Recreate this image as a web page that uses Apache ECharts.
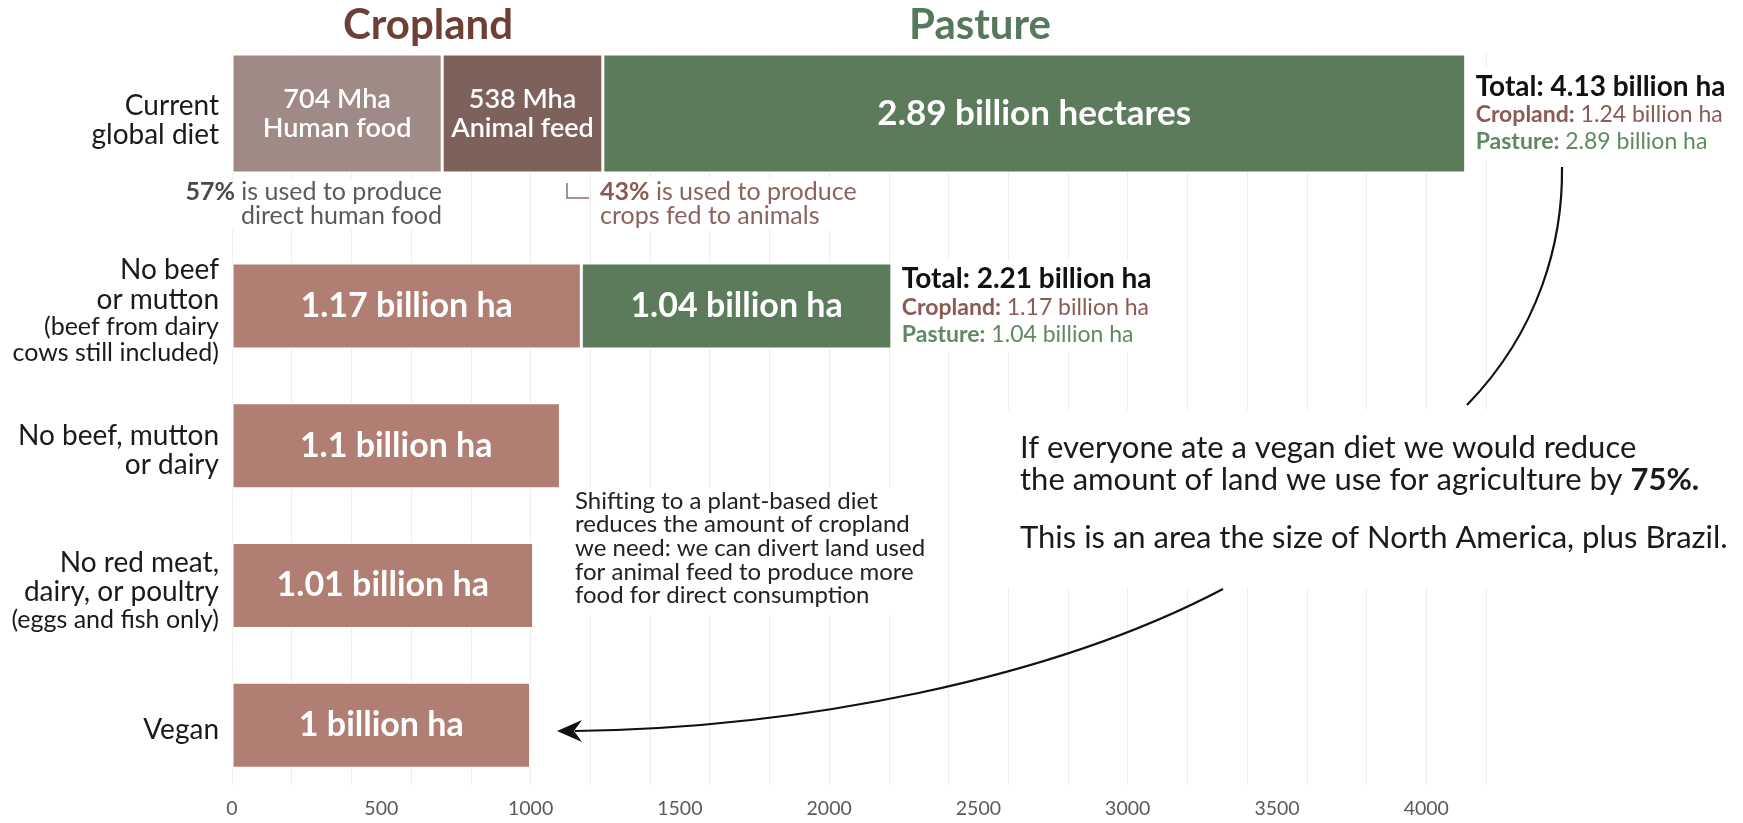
<!DOCTYPE html>
<html>
<head>
<meta charset="utf-8">
<script src="https://cdn.jsdelivr.net/npm/echarts@6/dist/echarts.min.js"></script>
<style>
html,body{margin:0;padding:0;background:#fff;}
#c{width:1743px;height:823px;}
</style>
</head>
<body>
<div id="c"></div>
<script>
// ---- data ----
const diets = ['Current\nglobal diet', 'No beef\nor mutton', 'No beef, mutton\nor dairy', 'No red meat,\ndairy, or poultry', 'Vegan'];
const dietNotes = ['', '(beef from dairy\ncows still included)', '', '(eggs and fish only)', ''];
const currentParts = ['Human food', 'Animal feed'];
const currentHumanFood = [704];      // Mha
const currentAnimalFeed = [538];     // Mha
const currentPasture = [2890];       // Mha
const altCropland = [1170, 1100, 1010, 1000]; // Mha
const altPasture = [1040, '-', '-', '-'];     // Mha
const xTickLabels = [0, 500, 1000, 1500, 2000, 2500, 3000, 3500, 4000];

// ---- style ----
const FONT = 'Lato, "Noto Sans", sans-serif';
const C_HUMAN = '#a08a85', C_FEED = '#7f615b', C_PASTURE = '#5b7b5b', C_CROP = '#b07e73';
const C_CROP_TXT = '#8c5a55', C_PAST_TXT = '#5f8a60';
const L = 232, R = 257;

const bn = v => String(+(v / 1000).toFixed(2));
const bn2 = v => (v / 1000).toFixed(2);

function yLabel(value) {
  const i = diets.indexOf(value);
  let s = value.split('\n').map(l => '{m|' + l + '}').join('\n');
  if (dietNotes[i]) s += '\n' + dietNotes[i].split('\n').map(l => '{s|' + l + '}').join('\n');
  return s;
}
function yAxisLabel(padTop) {
  return {
    margin: 13, formatter: yLabel, padding: [padTop, 0, 0, 0],
    rich: {
      m: {fontSize: 28, lineHeight: 29.5, color: '#1a1a1a', fontFamily: FONT, align: 'right'},
      s: {fontSize: 25, lineHeight: 26, color: '#1a1a1a', fontFamily: FONT, align: 'right'}
    }
  };
}
const totalRich = {
  t: {fontSize: 28, fontWeight: 'bold', color: '#111', lineHeight: 30, fontFamily: FONT},
  c: {fontSize: 23, fontWeight: 'bold', color: C_CROP_TXT, lineHeight: 27, fontFamily: FONT},
  cv: {fontSize: 23, color: C_CROP_TXT, lineHeight: 27, fontFamily: FONT},
  p: {fontSize: 23, fontWeight: 'bold', color: C_PAST_TXT, lineHeight: 27, fontFamily: FONT},
  pv: {fontSize: 23, color: C_PAST_TXT, lineHeight: 27, fontFamily: FONT}
};
function totalText(crop, past) {
  return '{t|Total: ' + bn2(crop + past) + ' billion ha}\n{c|Cropland:}{cv| ' + bn2(crop) + ' billion ha}\n{p|Pasture:}{pv| ' + bn2(past) + ' billion ha}';
}
const inBar = {show: true, position: 'inside', color: '#fff', fontFamily: FONT, fontSize: 34, fontWeight: 'bold'};
const border = {borderColor: '#fff', borderWidth: 1.5};

const chart = echarts.init(document.getElementById('c'));
chart.setOption({
  animation: false,
  backgroundColor: '#fff',
  textStyle: {fontFamily: FONT},
  grid: [
    {left: L, right: R, top: 53, bottom: 38},
    {left: L, right: R, top: 54, height: 119},
    {left: L, right: R, top: 236, height: 559}
  ],
  xAxis: [
    {gridIndex: 0, type: 'value', min: 0, max: 4200, interval: 200, position: 'top',
     axisLabel: {show: false}, axisLine: {show: false}, axisTick: {show: false},
     splitLine: {show: true, lineStyle: {color: '#ededed', width: 1}}},
    {gridIndex: 0, type: 'value', min: 0, max: 4200, interval: 500, position: 'bottom',
     axisLine: {show: false}, axisTick: {show: false}, splitLine: {show: false},
     axisLabel: {margin: 14, fontSize: 19.5, color: '#5a5a5a', fontFamily: FONT,
       formatter: v => xTickLabels.includes(v) ? String(v) : ''}},
    {gridIndex: 1, type: 'value', min: 0, max: 4200, show: false},
    {gridIndex: 2, type: 'value', min: 0, max: 4200, show: false}
  ],
  yAxis: [
    {gridIndex: 0, type: 'value', min: 0, max: 1, show: false},
    {gridIndex: 1, type: 'category', data: diets.slice(0, 1), inverse: true,
     axisLine: {show: false}, axisTick: {show: false}, axisLabel: yAxisLabel(14)},
    {gridIndex: 2, type: 'category', data: diets.slice(1), inverse: true,
     axisLine: {show: false}, axisTick: {show: false}, axisLabel: yAxisLabel(10)}
  ],
  series: [
    {type: 'scatter', xAxisIndex: 0, yAxisIndex: 0, data: [], silent: true},
    {type: 'bar', name: currentParts[0], xAxisIndex: 2, yAxisIndex: 1, stack: 'cur', barCategoryGap: '0%',
     data: currentHumanFood, itemStyle: Object.assign({color: C_HUMAN}, border),
     label: Object.assign({}, inBar, {fontWeight: 600, fontSize: 27, lineHeight: 29,
       formatter: p => p.value + ' Mha\n' + currentParts[0]})},
    {type: 'bar', name: currentParts[1], xAxisIndex: 2, yAxisIndex: 1, stack: 'cur', barCategoryGap: '0%',
     data: currentAnimalFeed, itemStyle: Object.assign({color: C_FEED}, border),
     label: Object.assign({}, inBar, {fontWeight: 600, fontSize: 27, lineHeight: 29,
       formatter: p => p.value + ' Mha\n' + currentParts[1]})},
    {type: 'bar', name: 'Pasture', xAxisIndex: 2, yAxisIndex: 1, stack: 'cur', barCategoryGap: '0%',
     data: currentPasture, itemStyle: Object.assign({color: C_PASTURE}, border),
     label: Object.assign({}, inBar, {fontSize: 35, formatter: p => bn(p.value) + ' billion hectares'})},
    {type: 'bar', name: 'total', xAxisIndex: 2, yAxisIndex: 1, stack: 'cur', barCategoryGap: '0%',
     data: [0], itemStyle: {color: 'rgba(0,0,0,0)', borderWidth: 0}, silent: true,
     label: {show: true, position: 'right', distance: 8, align: 'left', backgroundColor: '#fff', padding: [4, 6, 4, 2],
       formatter: () => totalText(currentHumanFood[0] + currentAnimalFeed[0], currentPasture[0]), rich: totalRich}},
    {type: 'bar', name: 'Cropland', xAxisIndex: 3, yAxisIndex: 2, stack: 'alt', barWidth: 86,
     data: altCropland, itemStyle: Object.assign({color: C_CROP}, border),
     label: Object.assign({}, inBar, {formatter: p => bn(p.value) + ' billion ha'})},
    {type: 'bar', name: 'Pasture', xAxisIndex: 3, yAxisIndex: 2, stack: 'alt', barWidth: 86,
     data: altPasture, itemStyle: Object.assign({color: C_PASTURE}, border),
     label: Object.assign({}, inBar, {formatter: p => bn(p.value) + ' billion ha'})},
    {type: 'bar', name: 'total', xAxisIndex: 3, yAxisIndex: 2, stack: 'alt', barWidth: 86,
     data: [0, '-', '-', '-'], itemStyle: {color: 'rgba(0,0,0,0)', borderWidth: 0}, silent: true,
     label: {show: true, position: 'right', distance: 8, align: 'left', backgroundColor: '#fff', padding: [4, 6, 4, 2],
       formatter: () => totalText(altCropland[0], altPasture[0]), rich: totalRich}}
  ],
  graphic: [
    {type: 'text', z: 20, style: {text: 'Cropland', x: 428, y: 25, align: 'center', verticalAlign: 'middle',
      fontSize: 42, fontWeight: 'bold', fontFamily: FONT, fill: '#6e3f33'}},
    {type: 'text', z: 20, style: {text: 'Pasture', x: 980, y: 25, align: 'center', verticalAlign: 'middle',
      fontSize: 42, fontWeight: 'bold', fontFamily: FONT, fill: '#55795a'}},
    {type: 'text', z: 20, style: {text: '{b|57%} is used to produce\ndirect human food', x: 444, y: 204,
      align: 'right', verticalAlign: 'middle', fontSize: 25, lineHeight: 23.5, fontFamily: FONT, fill: '#5a5a5a',
      backgroundColor: '#fff', padding: [2, 2, 2, 4],
      rich: {b: {fontSize: 25, lineHeight: 23.5, fontWeight: 'bold', fontFamily: FONT, fill: '#4a4a4a'}}}},
    {type: 'polyline', z: 20, shape: {points: [[567, 183], [567, 198], [589, 198]]},
      style: {stroke: '#8d6e68', lineWidth: 1.5, fill: null}},
    {type: 'text', z: 20, style: {text: '{b|43%} is used to produce\ncrops fed to animals', x: 598, y: 204,
      align: 'left', verticalAlign: 'middle', fontSize: 25, lineHeight: 23.5, fontFamily: FONT, fill: '#8d625c',
      backgroundColor: '#fff', padding: [2, 4, 2, 2],
      rich: {b: {fontSize: 25, lineHeight: 23.5, fontWeight: 'bold', fontFamily: FONT, fill: '#8a5a52'}}}},
    {type: 'rect', z: 15, shape: {x: 565, y: 488, width: 383, height: 127}, style: {fill: '#fff'}},
    {type: 'text', z: 16, style: {text: 'Shifting to a plant-based diet\nreduces the amount of cropland\nwe need: we can divert land used\nfor animal feed to produce more\nfood for direct consumption',
      x: 575, y: 489, align: 'left', verticalAlign: 'top', fontSize: 24, lineHeight: 23.7, fontFamily: FONT, fill: '#222'}},
    {type: 'rect', z: 15, shape: {x: 965, y: 410, width: 778, height: 178}, style: {fill: '#fff'}},
    {type: 'text', z: 16, style: {
      text: '{a|If everyone ate a vegan diet we would reduce}\n{a|the amount of land we use for agriculture by }{b|75%.}\n{s| }\n{a|This is an area the size of North America, plus Brazil.}',
      x: 1020, y: 432, align: 'left', verticalAlign: 'top', fontFamily: FONT, fill: '#1a1a1a',
      rich: {
        a: {fontSize: 31, lineHeight: 32, fontFamily: FONT, fill: '#1a1a1a'},
        b: {fontSize: 31, lineHeight: 32, fontWeight: 'bold', fontFamily: FONT, fill: '#1a1a1a'},
        s: {fontSize: 10, lineHeight: 26, fontFamily: FONT, fill: '#1a1a1a'}
      }}},
    {type: 'bezierCurve', z: 17, shape: {x1: 1562, y1: 167, cpx1: 1563, cpy1: 240, cpx2: 1540, cpy2: 330, x2: 1467, y2: 405},
      style: {stroke: '#111', lineWidth: 2.2, fill: null}},
    {type: 'bezierCurve', z: 17, shape: {x1: 1223, y1: 589, cpx1: 1050, cpy1: 680, cpx2: 800, cpy2: 728, x2: 575, y2: 731},
      style: {stroke: '#111', lineWidth: 2.2, fill: null}},
    {type: 'polygon', z: 18, shape: {points: [[557, 731], [582, 720], [574, 731], [582, 742]]},
      style: {fill: '#111'}}
  ]
});
</script>
</body>
</html>
